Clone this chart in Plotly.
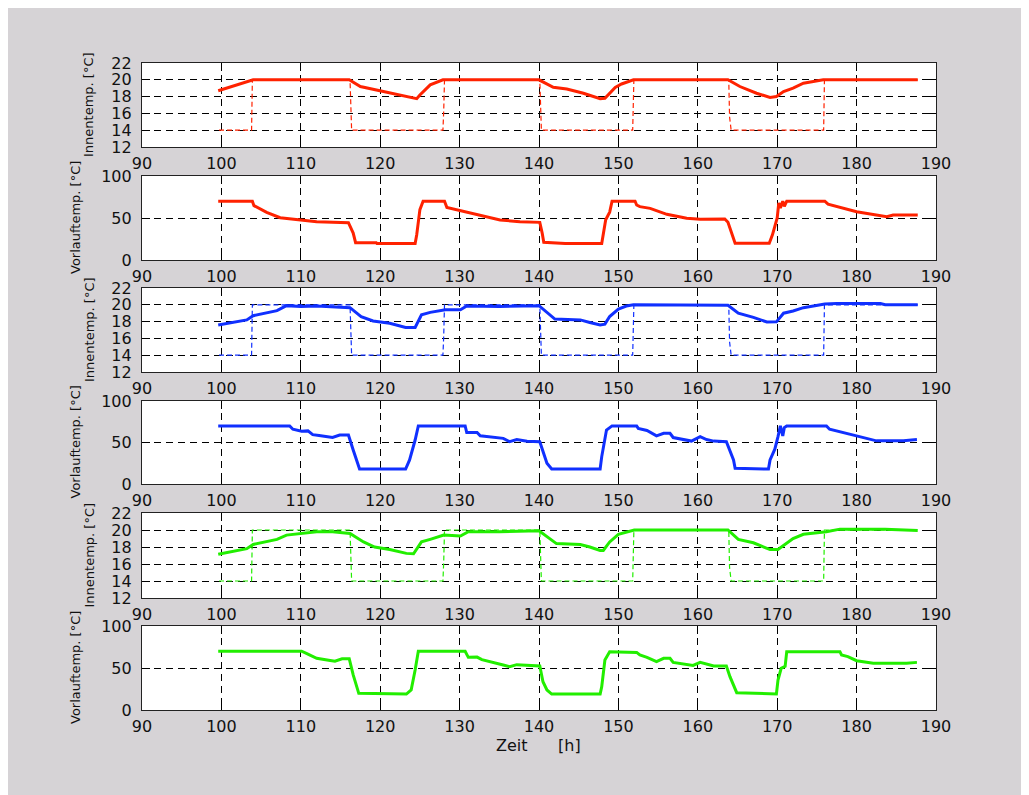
import plotly.graph_objects as go

# ---------------- data ----------------
# setpoint (Solltemperatur) - same for all three variants
sp_t = [99.7, 103.8, 103.9, 116.2, 116.4, 127.9, 128.0, 128.1, 140.1, 140.2, 140.3,
        151.8, 151.95, 163.9, 164.0, 164.2, 175.85, 175.95, 187.7]
sp_v = [14, 14, 20, 20, 14, 14, 16.3, 20, 20, 16, 14, 14, 20, 20, 15.6, 14, 14, 20, 20]

# red: Innentemp
t_r1 = [99.6, 101.5, 104.0, 116.1, 117.5, 120.4, 124.2, 124.6, 125.0, 126.3, 127.9, 140.0,
        141.8, 143.5, 145.6, 147.7, 148.3, 149.6, 150.4, 151.9, 163.8, 165.3, 167.4, 169.1,
        169.9, 170.8, 172.0, 173.3, 175.8, 187.7]
v_r1 = [18.7, 19.25, 20.0, 20.0, 19.2, 18.6, 17.75, 17.75, 18.2, 19.4, 20.0, 20.0,
        19.1, 18.9, 18.4, 17.75, 17.8, 19.1, 19.5, 20.0, 20.0, 19.2, 18.4, 17.9,
        18.0, 18.6, 19.0, 19.6, 20.0, 20.0]
# red: Vorlauftemp
t_r2 = [99.6, 103.9, 104.1, 105.7, 107.4, 110.0, 112.0, 116.0, 116.6, 116.9, 119.5, 119.6,
        124.4, 124.6, 125.0, 125.4, 128.1, 128.4, 130.9, 132.6, 135.1, 137.6, 140.1, 140.4,
        140.6, 143.3, 147.9, 148.4, 148.9, 149.2, 152.1, 152.3, 152.7, 154.0, 156.1, 158.6,
        160.3, 163.4, 163.8, 164.7, 169.0, 169.4, 170.0, 170.2, 170.4, 170.7, 170.9, 171.2,
        176.0, 176.4, 180.0, 183.8, 184.6, 187.7]
v_r2 = [70, 70, 64.7, 56.7, 50.4, 47.6, 45.6, 44.4, 32, 20.6, 20.6, 19.5,
        19.5, 30, 60, 70, 70, 62.4, 56.7, 52.8, 47.6, 45.6, 44.8, 32,
        21, 19.5, 19.5, 48, 57, 70, 70, 65.5, 63.5, 61.5, 54.4, 49.6,
        48.4, 48.8, 45, 20, 20, 30, 50, 68, 62, 70, 64, 70,
        70, 66.5, 57.5, 51.6, 53.6, 53.6]

# blue: Innentemp
t_b1 = [99.6, 103.2, 104.0, 105.7, 107.0, 108.2, 110.0, 112.0, 116.2, 117.6, 119.1, 121.2,
        123.2, 124.4, 125.2, 126.3, 128.2, 130.1, 130.9, 135.0, 140.0, 142.0, 145.2, 146.4,
        147.7, 148.3, 148.9, 150.0, 151.0, 151.9, 163.8, 165.1, 167.0, 168.7, 169.9, 170.8,
        172.0, 173.3, 176.0, 177.5, 183.0, 183.6, 187.7]
v_b1 = [17.6, 18.2, 18.7, 19.06, 19.3, 19.9, 19.8, 19.85, 19.66, 18.6, 18.07, 17.8,
        17.3, 17.3, 18.8, 19.1, 19.4, 19.4, 19.85, 19.8, 19.9, 18.3, 18.2, 17.9,
        17.6, 17.7, 18.6, 19.5, 19.86, 20.0, 19.95, 19.0, 18.5, 17.95, 17.97, 19.0,
        19.26, 19.66, 20.1, 20.15, 20.15, 20.0, 20.0]
# blue: Vorlauftemp
t_b2 = [99.6, 108.6, 109.0, 110.1, 110.9, 111.5, 112.3, 114.0, 114.9, 116.0, 116.6, 117.0,
        117.4, 123.2, 123.7, 124.4, 124.8, 130.7, 130.9, 132.2, 132.6, 135.5, 136.3, 137.2,
        138.5, 140.1, 140.5, 141.0, 141.6, 147.7, 147.9, 148.5, 149.2, 152.3, 152.5, 153.6,
        154.8, 155.7, 156.5, 156.9, 159.2, 160.3, 161.1, 162.0, 163.6, 164.05, 164.5, 164.7,
        168.9, 169.1, 169.7, 170.1, 170.4, 170.7, 170.9, 171.2, 176.2, 176.6, 177.9, 180.0,
        181.7, 182.5, 185.9, 187.6]
v_b2 = [70, 70, 66, 63.5, 64, 59.5, 58.5, 56, 59, 59, 41, 29,
        18, 18, 29, 53, 70, 70, 62, 62, 58, 55, 51, 53.5,
        51.6, 51, 39, 25, 18, 18, 33, 65, 70, 70, 67, 64.5,
        58, 61, 61, 56, 51.7, 57, 53.6, 51.7, 51, 40, 29, 19,
        18, 29, 42, 57, 70, 58, 68, 70, 70, 66, 63, 58,
        54, 52, 52, 53.5]

# green: Innentemp
t_g1 = [99.6, 103.2, 104.0, 105.7, 107.0, 108.2, 109.9, 112.0, 114.0, 116.2, 117.9, 119.3,
        121.2, 123.3, 124.2, 125.2, 126.3, 128.0, 130.1, 131.1, 135.0, 140.0, 142.2, 145.2,
        146.4, 147.7, 148.1, 148.9, 150.0, 151.5, 152.0, 163.8, 165.1, 167.0, 169.1, 170.1,
        171.0, 172.0, 173.3, 176.2, 177.9, 183.6, 187.7]
v_g1 = [17.15, 17.8, 18.3, 18.6, 18.9, 19.4, 19.6, 19.8, 19.8, 19.6, 18.6, 18.0,
        17.7, 17.25, 17.2, 18.6, 18.9, 19.4, 19.3, 19.8, 19.8, 19.9, 18.4, 18.3,
        18.0, 17.6, 17.6, 18.6, 19.5, 19.9, 20.0, 20.0, 18.9, 18.5, 17.7, 17.7,
        18.3, 19.0, 19.5, 19.8, 20.1, 20.1, 19.95]
# green: Vorlauftemp
t_g2 = [99.6, 110.1, 110.7, 112.0, 113.7, 114.3, 115.2, 116.1, 116.6, 117.0, 117.3, 123.3,
        123.9, 124.4, 124.8, 130.7, 131.1, 132.2, 132.8, 135.5, 136.3, 137.2, 138.5, 140.1,
        140.5, 141.0, 141.6, 147.7, 147.9, 148.3, 148.9, 151.0, 152.3, 152.7, 153.6, 154.8,
        155.7, 156.5, 156.9, 159.4, 160.3, 162.0, 163.6, 164.05, 164.5, 164.9, 169.9, 170.1,
        170.5, 171.0, 171.2, 177.9, 178.1, 178.9, 180.0, 182.1, 186.3, 187.6]
v_g2 = [70, 70, 67.5, 61.5, 59, 58, 61, 61, 41.7, 27.8, 19.8, 19,
        23.8, 47.6, 70, 70, 62.7, 63, 60, 53.6, 51.6, 54, 53, 52.4,
        33.7, 23.8, 19, 19, 27.8, 59.5, 69.4, 69.4, 68.6, 65.5, 62.7, 57.5,
        61.5, 61.5, 56.7, 53, 56.7, 52.4, 52.4, 39.7, 29.8, 20.6, 19, 35.7,
        49.6, 52, 69.4, 69.4, 65.5, 63.5, 58.7, 55.6, 55.6, 56.7]

x_ticks = [90, 100, 110, 120, 130, 140, 150, 160, 170, 180, 190]
innen_ticks = [12, 14, 16, 18, 20, 22]
vorlauf_ticks = [0, 50, 100]
label_innen = "Innentemp. [°C]"
label_vorlauf = "Vorlauftemp. [°C]"
label_x = "Zeit      [h]"

colors = ["#FF2200", "#1030FF", "#22EE00"]

# ---------------- layout geometry (pixels of the page) ----------------
OFF = 8                      # browser body margin
W, H = 1029 - OFF, 795 - OFF
L, R, T, B = 142 - OFF, 936 - OFF, 63 - OFF, 710 - OFF
panels_px = [(63, 147), (176, 260), (288, 372), (401, 484), (513, 598), (626, 710)]
panels_px = [(a - OFF, b - OFF) for a, b in panels_px]

def py(y):
    return (B - y) / (B - T)

def px(x):
    return (x - L) / (R - L)

fig = go.Figure()

series = [
    (t_r1, v_r1, t_r2, v_r2, colors[0]),
    (t_b1, v_b1, t_b2, v_b2, colors[1]),
    (t_g1, v_g1, t_g2, v_g2, colors[2]),
]

tickfont = dict(family="DejaVu Sans", size=16, color="#111111")
griddash = "7px,5px"

for k, (ti, vi, tv, vv, col) in enumerate(series):
    a_in = 2 * k + 1
    a_vl = 2 * k + 2
    fig.add_trace(go.Scatter(x=sp_t, y=sp_v, mode="lines",
                             line=dict(color=col, width=1.2, dash="5px,3px"),
                             xaxis=f"x{a_in}", yaxis=f"y{a_in}", showlegend=False))
    fig.add_trace(go.Scatter(x=ti, y=vi, mode="lines",
                             line=dict(color=col, width=3),
                             xaxis=f"x{a_in}", yaxis=f"y{a_in}", showlegend=False))
    fig.add_trace(go.Scatter(x=tv, y=vv, mode="lines",
                             line=dict(color=col, width=3),
                             xaxis=f"x{a_vl}", yaxis=f"y{a_vl}", showlegend=False))

layout = dict(
    width=W, height=H,
    margin=dict(l=L, r=W - R, t=T, b=H - B, pad=0),
    paper_bgcolor="#D6D3D6",
    plot_bgcolor="#FFFFFF",
    showlegend=False,
)

for i, (top, bot) in enumerate(panels_px):
    n = i + 1
    is_innen = (i % 2 == 0)
    xa = dict(
        domain=[0, 1], anchor=f"y{n}", range=[90, 190],
        tickmode="array", tickvals=x_ticks, ticktext=[str(v) for v in x_ticks],
        ticks="inside", ticklen=8, tickcolor="#000000", tickwidth=1,
        showline=True, linecolor="#222222", linewidth=1.2, mirror="ticks",
        showgrid=True, gridcolor="#000000", gridwidth=1, griddash=griddash,
        zeroline=False, tickfont=tickfont, ticklabelstandoff=2,
    )
    ya = dict(
        domain=[py(bot), py(top)], anchor=f"x{n}",
        range=[12, 22] if is_innen else [0, 100],
        tickmode="array",
        tickvals=innen_ticks if is_innen else vorlauf_ticks,
        ticktext=[str(v) for v in (innen_ticks if is_innen else vorlauf_ticks)],
        ticks="inside", ticklen=8, tickcolor="#000000", tickwidth=1,
        showline=True, linecolor="#222222", linewidth=1.2, mirror="ticks",
        showgrid=True, gridcolor="#000000", gridwidth=1, griddash=griddash,
        zeroline=False, tickfont=tickfont, ticklabelstandoff=6,
    )
    layout["xaxis" if n == 1 else f"xaxis{n}"] = xa
    layout["yaxis" if n == 1 else f"yaxis{n}"] = ya

fig.update_layout(**layout)

annotations = []
for i, (top, bot) in enumerate(panels_px):
    is_innen = (i % 2 == 0)
    cx = (89 if is_innen else 75) - OFF
    cy = (top + bot) / 2
    annotations.append(dict(
        text=label_innen if is_innen else label_vorlauf,
        x=px(cx), y=py(cy), xref="paper", yref="paper",
        xanchor="center", yanchor="middle", textangle=-90, showarrow=False,
        font=dict(family="DejaVu Sans", size=13, color="#111111"),
    ))
annotations.append(dict(
    text=label_x, x=px(538 - OFF), y=py(745 - OFF), xref="paper", yref="paper",
    xanchor="center", yanchor="middle", showarrow=False,
    font=dict(family="DejaVu Sans", size=16, color="#111111"),
))
fig.update_layout(annotations=annotations)

fig.write_html("out.html")
